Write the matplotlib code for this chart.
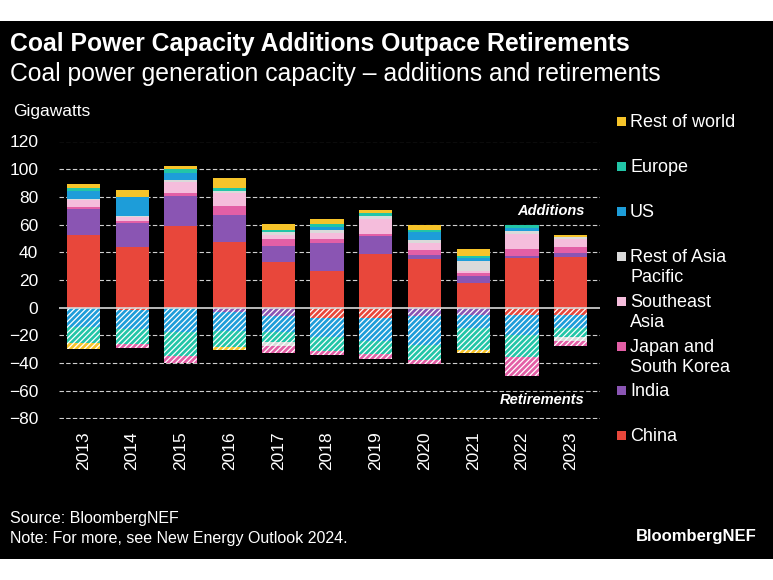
import numpy as np
import matplotlib
matplotlib.use('Agg')
import matplotlib.pyplot as plt
from matplotlib.patches import Rectangle

plt.rcParams['font.family'] = ['Liberation Sans', 'DejaVu Sans']
plt.rcParams['hatch.linewidth'] = 0.9

years = ['2013', '2014', '2015', '2016', '2017', '2018', '2019', '2020', '2021', '2022', '2023']

regions = ['China', 'India', 'Japan and South Korea', 'Southeast Asia',
           'Rest of Asia Pacific', 'US', 'Europe', 'Rest of world']
colors = ['#e8473b', '#8a55b3', '#e35fa6', '#f5bddc',
          '#dadada', '#1d9dd9', '#22c5a7', '#f6c42a']

# additions, GW (stacked bottom -> top)
add_china = [52.3, 43.6, 58.8, 47.2, 32.9, 26.4, 38.8, 35.5, 18.0, 36.0, 36.5]
add_india = [19.2, 17.6, 22.0, 19.9, 11.5, 20.4, 12.8, 2.9, 4.8, 1.6, 3.1]
add_japan = [1.0, 1.6, 1.9, 6.5, 5.5, 2.8, 1.6, 3.6, 1.9, 5.1, 4.0]
add_sea = [5.5, 2.5, 7.9, 9.1, 2.9, 4.6, 11.1, 4.5, 1.7, 10.8, 6.3]
add_roap = [0.7, 1.1, 1.7, 1.3, 1.9, 1.9, 2.1, 2.2, 7.2, 1.7, 1.2]
add_us = [5.6, 13.2, 5.3, 0.0, 0.0, 2.0, 0.0, 5.7, 2.4, 2.0, 0.0]
add_europe = [2.3, 0.5, 2.4, 2.3, 1.7, 2.1, 1.9, 1.5, 1.6, 2.3, 0.0]
add_row = [2.4, 4.6, 2.6, 7.7, 4.0, 3.6, 2.0, 3.6, 5.1, 0.3, 1.2]

# retirements, GW (stacked from zero downwards)
ret_china = [0.0, -2.0, 0.0, 0.0, 0.0, -7.5, -7.5, 0.0, 0.0, -5.5, -5.5]
ret_india = [0.0, 0.0, 0.0, -3.4, -5.8, 0.0, 0.0, -6.0, -5.5, 0.0, 0.0]
ret_us = [-14.2, -13.4, -17.8, -13.2, -12.0, -14.0, -16.5, -21.0, -9.5, -14.4, -9.5]
ret_europe = [-11.6, -10.9, -16.9, -12.1, -7.2, -9.6, -9.6, -10.9, -15.7, -15.6, -6.0]
ret_roap = [0.0, 0.0, 0.0, 0.0, -2.5, 0.0, 0.0, 0.0, 0.0, 0.0, -3.0]
ret_japan = [0.0, -2.9, -5.5, 0.0, -5.3, -2.8, -3.8, -2.4, 0.0, -13.7, -3.6]
ret_row = [-4.3, 0.0, 0.0, -2.0, 0.0, 0.0, 0.0, 0.0, -2.3, 0.0, 0.0]

additions = [add_china, add_india, add_japan, add_sea, add_roap, add_us, add_europe, add_row]
retirements = [
    (ret_china, 'China'), (ret_india, 'India'), (ret_us, 'US'), (ret_europe, 'Europe'),
    (ret_roap, 'Rest of Asia Pacific'), (ret_japan, 'Japan and South Korea'),
    (ret_row, 'Rest of world'),
]
color_of = dict(zip(regions, colors))

legend_labels = ['Rest of world', 'Europe', 'US', 'Rest of Asia\nPacific', 'Southeast\nAsia',
                 'Japan and\nSouth Korea', 'India', 'China']
legend_colors = colors[::-1]

W, H = 773, 580
fig = plt.figure(figsize=(W / 100, H / 100), dpi=100)
fig.patch.set_facecolor('white')
fig.add_artist(Rectangle((0, 1 - 559 / H), 1, 538 / H, transform=fig.transFigure,
                         facecolor='black', edgecolor='none', zorder=0))


def px(x, y):
    return x / W, 1 - y / H


ax = fig.add_axes([59 / W, 1 - 418.5 / H, (600 - 59) / W, (418.5 - 141.5) / H])
ax.set_facecolor('black')

x = np.arange(len(years))
bw = 0.68

bottom = np.zeros(len(years))
for vals, c in zip(additions, colors):
    ax.bar(x, vals, bw, bottom=bottom, color=c, linewidth=0, zorder=3)
    bottom += np.array(vals)

bottom = np.zeros(len(years))
for vals, name in retirements:
    ax.bar(x, vals, bw, bottom=bottom, color=color_of[name], hatch='//////',
           edgecolor='white', linewidth=0, zorder=3)
    bottom += np.array(vals)

ax.set_ylim(-80, 120)
ax.set_xlim(-0.5, 10.6)
yt = np.arange(-80, 121, 20)
ax.set_yticks(yt)
ax.set_xticks(x)
ax.set_xticklabels(years, rotation=90)
for v in yt:
    if v == 0:
        ax.axhline(0, color='#d9d9d9', linewidth=1.2, zorder=4)
    else:
        ax.axhline(v, color='#cfcfcf', linewidth=0.8, linestyle=(0, (4, 2)), zorder=1)

for s in ax.spines.values():
    s.set_visible(False)
ax.tick_params(length=0, colors='white', labelsize=12.5)
ax.tick_params(axis='y', pad=15)
ax.tick_params(axis='x', pad=9)

ax.text(10.28, 70, 'Additions', color='white', fontsize=10.5, fontweight='bold',
        fontstyle='italic', ha='right', va='center', zorder=5)
ax.text(10.28, -67, 'Retirements', color='white', fontsize=10.5, fontweight='bold',
        fontstyle='italic', ha='right', va='center', zorder=5)

fig.text(*px(10, 44), 'Coal Power Capacity Additions Outpace Retirements', color='white',
         fontsize=17.8, fontweight='bold', ha='left', va='center')
fig.text(*px(10, 74), 'Coal power generation capacity \u2013 additions and retirements',
         color='white', fontsize=17.8, ha='left', va='center')
fig.text(*px(13, 112), 'Gigawatts', color='white', fontsize=12.5, ha='left', va='center')

# legend drawn by hand
leg_y = [121, 166, 211, 256, 301, 346, 390, 435]
for lab, c, yy in zip(legend_labels, legend_colors, leg_y):
    fig.add_artist(Rectangle(px(617, yy + 5), 9 / W, 9 / H, transform=fig.transFigure,
                             facecolor=c, edgecolor='none'))
    fig.text(*px(630, yy - 7), lab, color='white', fontsize=13, ha='left', va='top',
             linespacing=1.25)

fig.text(*px(10, 518), 'Source: BloombergNEF', color='white', fontsize=11.5,
         ha='left', va='center')
fig.text(*px(10, 538), 'Note: For more, see New Energy Outlook 2024.', color='white',
         fontsize=11.5, ha='left', va='center')
fig.text(*px(757, 537), 'BloombergNEF', color='white', fontsize=12, fontweight='bold',
         ha='right', va='center')

fig.savefig('out.png', dpi=100, facecolor=fig.get_facecolor())
